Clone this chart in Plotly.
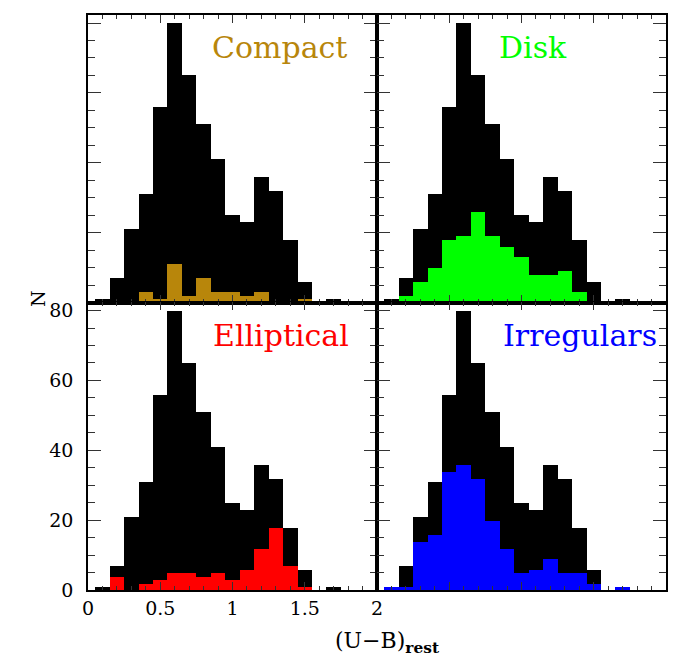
import plotly.graph_objects as go

# Histogram bins of (U-B)_rest: centres, bin width 0.1
bin_centers = [0.1, 0.2, 0.3, 0.4, 0.5, 0.6, 0.7, 0.8, 0.9, 1.0,
               1.1, 1.2, 1.3, 1.4, 1.5, 1.6, 1.7]
bin_width = 0.1

# Full sample counts (black histogram in every panel)
all_counts = [1, 7, 21, 31, 56, 80, 65, 51, 41, 25, 23, 36, 32, 18, 6, 0, 1]

# Morphological classes
compact_counts = [0, 0, 0, 3, 1, 11, 2, 7, 3, 3, 2, 3, 0, 0, 1, 0, 0]
disk_counts = [0, 2, 6, 10, 18, 19, 26, 19, 16, 13, 8, 8, 9, 3, 0, 0, 0]
elliptical_counts = [0, 4, 0, 2, 3, 5, 5, 4, 5, 3, 6, 12, 18, 7, 1, 0, 0]
irregular_counts = [1, 1, 14, 16, 34, 36, 32, 20, 12, 5, 6, 9, 5, 5, 2, 0, 1]

class_names = ["Compact", "Disk", "Elliptical", "Irregulars"]
class_colors = ["#B8860B", "#00FF00", "#FF0000", "#0000FF"]
class_counts = [compact_counts, disk_counts, elliptical_counts, irregular_counts]

x_ticks = [0, 0.5, 1, 1.5, 2]
x_ticktext = ["0", "0.5", "1", "1.5", "2"]
y_ticks = [0, 20, 40, 60, 80]

SERIF = "DejaVu Serif"

# panel order: top-left, top-right, bottom-left, bottom-right
x_domains = [[0, 0.5], [0.5, 1], [0, 0.5], [0.5, 1]]
y_domains = [[0.5, 1], [0.5, 1], [0, 0.5], [0, 0.5]]
label_pos = [(0.332, 0.944), (0.770, 0.944), (0.334, 0.443), (0.851, 0.443)]

fig = go.Figure()
layout = {}

for i in range(4):
    sfx = "" if i == 0 else str(i + 1)
    xa, ya = "x" + sfx, "y" + sfx
    fig.add_trace(go.Bar(x=bin_centers, y=all_counts, width=bin_width,
                         marker=dict(color="black", line=dict(width=0)),
                         xaxis=xa, yaxis=ya, showlegend=False))
    fig.add_trace(go.Bar(x=bin_centers, y=class_counts[i], width=bin_width,
                         marker=dict(color=class_colors[i], line=dict(width=0)),
                         xaxis=xa, yaxis=ya, showlegend=False))

    layout["xaxis" + sfx] = dict(
        domain=x_domains[i], anchor=ya, range=[0, 2],
        showline=True, linecolor="black", linewidth=1.5, mirror="ticks",
        ticks="inside", ticklen=8, tickwidth=1, tickcolor="#333",
        tickvals=x_ticks, ticktext=x_ticktext,
        minor=dict(dtick=0.1, tick0=0, ticks="inside", ticklen=4,
                   tickwidth=1, tickcolor="#333"),
        showgrid=False, zeroline=False,
        showticklabels=(i == 2),
        tickfont=dict(family=SERIF, size=19, color="black"),
        ticklabelstandoff=0,
    )
    layout["yaxis" + sfx] = dict(
        domain=y_domains[i], anchor=xa, range=[0, 82.3],
        showline=True, linecolor="black", linewidth=1.5, mirror="ticks",
        ticks="inside", ticklen=13, tickwidth=1, tickcolor="#333",
        tickvals=y_ticks,
        minor=dict(dtick=5, tick0=0, ticks="inside", ticklen=7,
                   tickwidth=1, tickcolor="#333"),
        showgrid=False, zeroline=False,
        showticklabels=(i == 2),
        tickfont=dict(family=SERIF, size=19, color="black"),
        ticklabelstandoff=9,
    )

annotations = []
for (px, py), name, col in zip(label_pos, class_names, class_colors):
    annotations.append(dict(text=name, x=px, y=py, xref="paper", yref="paper",
                            xanchor="center", yanchor="middle", showarrow=False,
                            font=dict(family=SERIF, size=30, color=col)))

annotations.append(dict(text="N", x=-0.108, y=0.507, xref="paper", yref="paper",
                        textangle=-90, showarrow=False,
                        font=dict(family=SERIF, size=19, color="black")))
annotations.append(dict(text="(U\u2212B)<sub><b>rest</b></sub>", x=0.424, y=-0.091,
                        xref="paper", yref="paper", xanchor="left", yanchor="middle",
                        showarrow=False,
                        font=dict(family=SERIF, size=22, color="black")))

fig.update_layout(
    **layout,
    annotations=annotations,
    barmode="overlay",
    bargap=0,
    width=686, height=662,
    margin=dict(l=88, r=20, t=13, b=72),
    paper_bgcolor="white", plot_bgcolor="white",
)

fig.write_html("out.html")
